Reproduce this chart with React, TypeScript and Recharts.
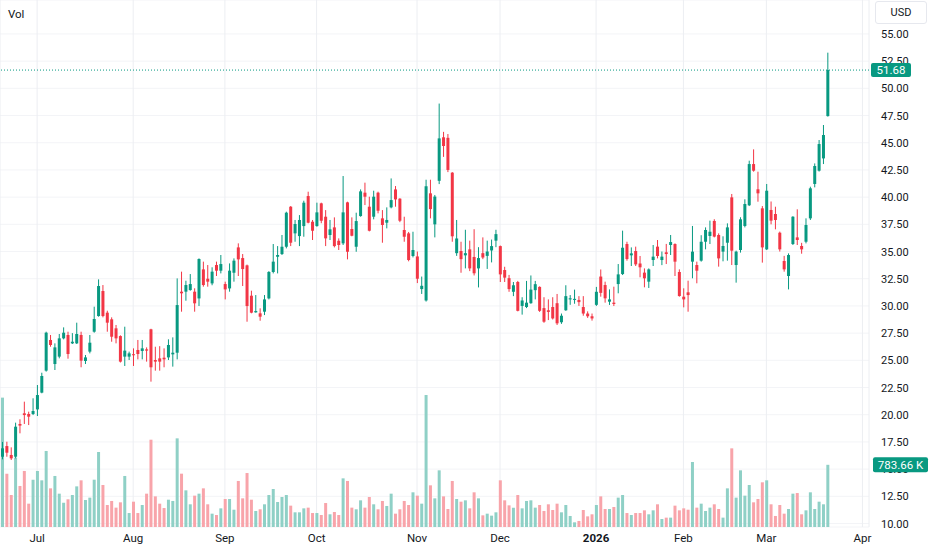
import React from 'react';
import { ComposedChart, Bar, XAxis, YAxis, CartesianGrid, ReferenceLine, Cell } from 'recharts';

const GREEN = '#089981';
const RED = '#F23645';
const VOL_GREEN = '#8fd0c6';
const VOL_RED = '#f8a4aa';
const TEXT = '#131722';
const FONT = 'Roboto, "Noto Sans", sans-serif';

const monthTickIndex = [8, 30, 51, 72, 95, 114, 136, 156, 175, 197];
const monthTickLabel = ['Jul', 'Aug', 'Sep', 'Oct', 'Nov', 'Dec', '2026', 'Feb', 'Mar', 'Apr'];
const priceTicks = [10, 12.5, 15, 17.5, 20, 22.5, 25, 27.5, 30, 32.5, 35, 37.5, 40, 42.5, 45, 47.5, 50, 52.5, 55];
const TOTAL_SLOTS = 199;
const lastPrice = 51.68;
const lastVolumeK = 783.66;
const priceDomain = [9.68, 58.12];
const volumeDomain = [0, 6640];

const openPrices = [
  16.14, 17.12, 16.3, 16.14, 19.15, 20.13, 20.07, 20.07, 20.49, 22.03,
  24.05, 26.87, 24.66, 25.34, 27.02, 27.33, 26.56, 26.56, 27.33, 24.94,
  25.8, 27.63, 29.07, 31.37, 29.38, 28.77, 27.94, 27.23, 25.34, 25.34,
  25.56, 25.95, 25.86, 26.01, 27.85, 25.03, 25.18, 25.24, 25.27, 25.55,
  25.7, 31.31, 31.31, 31.46, 31.31, 30.69, 33.36, 32.5, 32.07, 33.76,
  33.24, 32.01, 31.61, 33.05, 35.38, 34.4, 33.73, 30.94, 29.41, 29.32,
  29.47, 30.69, 33.12, 34.52, 34.77, 35.44, 39.12, 36.67, 36.42, 37.34,
  40.1, 37.74, 37.34, 39.43, 38.2, 36.52, 37.22, 35.99, 35.75, 39.52,
  37.07, 35.44, 38.26, 40.41, 39.12, 38.2, 40.41, 38.05, 37.65, 39.06,
  40.71, 39.86, 36.98, 36.67, 34.59, 34.55, 31.55, 30.5, 40.35, 37.5,
  41.5, 45.5, 45.45, 42.25, 34.85, 35.05, 34.65, 35.2, 34.5, 33.45,
  34.85, 34.6, 35.1, 36.0, 35.5, 33.3, 32.55, 31.3, 32.2, 30.0,
  29.9, 30.25, 31.45, 31.75, 29.8, 29.6, 29.9, 30.25, 28.5, 29.6,
  30.6, 30.55, 30.55, 29.9, 29.3, 29.05, 30.1, 32.7, 31.92, 30.39,
  30.3, 32.01, 32.93, 35.69, 34.65, 35.05, 33.9, 33.06, 32.23, 34.22,
  35.45, 34.22, 34.93, 35.6, 35.69, 33.12, 30.85, 31.25, 34.07, 33.76,
  34.16, 35.9, 36.43, 37.81, 36.52, 34.99, 35.81, 39.98, 33.76, 35.14,
  37.35, 39.25, 43.04, 40.72, 38.97, 35.2, 38.82, 38.45, 36.73, 34.13,
  32.75, 35.69, 36.3, 35.51, 35.9, 38.05, 41.21, 42.43, 43.56, 47.45,
];

const highPrices = [
  17.5, 17.52, 17.0, 19.27, 19.58, 21.2, 20.28, 21.51, 22.73, 23.86,
  27.63, 27.33, 26.56, 27.42, 28.03, 27.63, 27.5, 28.46, 27.63, 25.49,
  27.33, 29.93, 32.44, 31.92, 29.56, 28.95, 28.25, 27.3, 28.09, 25.8,
  26.1, 26.87, 26.87, 26.19, 27.9, 26.25, 26.3, 26.1, 26.93, 27.11,
  32.53, 33.15, 32.32, 32.93, 31.62, 34.37, 34.07, 33.76, 33.55, 34.07,
  34.68, 32.23, 33.91, 34.37, 35.75, 34.77, 33.8, 31.4, 31.0, 29.78,
  31.0, 33.2, 35.69, 35.5, 36.52, 38.66, 39.18, 37.9, 38.35, 39.67,
  40.5, 37.9, 39.49, 39.49, 38.81, 37.9, 38.14, 36.21, 41.94, 39.58,
  38.14, 38.57, 40.71, 41.33, 40.04, 40.59, 40.5, 38.81, 39.06, 41.72,
  41.02, 39.9, 38.2, 36.8, 36.82, 35.0, 32.7, 41.6, 41.6, 40.2,
  48.6, 46.0, 45.8, 42.3, 37.9, 35.9, 37.0, 36.0, 37.05, 35.4,
  36.3, 36.0, 36.1, 37.0, 35.55, 33.6, 32.85, 32.2, 32.3, 30.8,
  32.3, 32.8, 32.3, 31.8, 30.8, 30.6, 30.8, 31.1, 29.3, 31.9,
  31.0, 31.5, 30.9, 30.9, 29.5, 29.3, 31.75, 33.35, 32.23, 31.52,
  31.77, 33.85, 36.92, 35.9, 35.38, 35.45, 34.59, 33.45, 33.45, 35.6,
  36.06, 35.0, 35.7, 36.52, 35.75, 33.36, 31.62, 32.32, 37.35, 34.07,
  36.5, 37.22, 37.84, 37.97, 36.67, 36.4, 37.59, 40.29, 35.08, 38.15,
  39.8, 43.35, 44.39, 42.34, 39.18, 41.21, 39.6, 39.12, 36.83, 34.6,
  34.83, 38.25, 38.88, 35.8, 38.05, 40.96, 43.1, 45.25, 46.63, 53.28,
];

const lowPrices = [
  15.9, 16.14, 15.84, 15.99, 18.29, 19.15, 19.05, 19.97, 19.88, 21.97,
  23.96, 26.25, 24.11, 25.18, 26.93, 25.15, 26.5, 26.5, 24.36, 24.66,
  25.64, 27.54, 29.01, 28.95, 27.63, 26.71, 26.56, 24.8, 24.48, 25.03,
  24.48, 25.09, 25.09, 24.88, 23.04, 24.05, 24.05, 24.36, 25.03, 24.42,
  25.09, 29.47, 30.48, 31.4, 29.47, 29.99, 31.77, 31.77, 31.9, 32.75,
  32.99, 30.6, 31.31, 32.23, 32.75, 31.83, 28.55, 29.32, 29.38, 28.64,
  29.16, 30.6, 32.99, 32.99, 34.68, 35.29, 35.5, 35.9, 35.5, 36.36,
  37.59, 36.06, 37.28, 37.6, 35.5, 36.06, 35.38, 35.14, 35.6, 34.28,
  36.4, 34.98, 38.2, 39.27, 36.85, 37.96, 38.51, 35.81, 37.13, 38.97,
  39.12, 37.7, 35.9, 34.1, 34.46, 32.1, 31.1, 30.4, 38.05, 36.3,
  41.2, 43.7, 42.3, 35.9, 34.6, 33.05, 33.45, 33.2, 32.8, 31.7,
  34.3, 33.4, 34.0, 35.4, 32.2, 32.2, 31.3, 30.9, 29.5, 29.2,
  29.8, 30.2, 30.6, 29.45, 28.45, 28.7, 28.75, 28.25, 28.35, 29.55,
  30.1, 30.2, 30.0, 29.1, 28.9, 28.65, 30.0, 30.85, 30.3, 30.09,
  29.99, 31.16, 32.84, 34.16, 33.67, 33.67, 32.63, 31.71, 31.65, 33.67,
  34.37, 33.75, 33.85, 34.68, 32.75, 30.85, 29.87, 29.47, 32.54, 32.08,
  34.07, 35.2, 35.69, 36.3, 33.61, 34.1, 34.16, 33.76, 32.14, 34.9,
  37.22, 39.18, 42.34, 39.58, 33.98, 35.14, 37.5, 37.04, 35.0, 33.15,
  31.52, 35.6, 35.6, 34.8, 35.75, 37.9, 40.9, 42.35, 43.04, 47.4,
];

const closePrices = [
  16.91, 16.51, 15.99, 18.9, 19.0, 19.97, 19.82, 20.34, 21.81, 23.56,
  27.54, 26.41, 26.19, 27.02, 27.54, 25.58, 26.71, 27.42, 24.97, 25.27,
  26.62, 28.8, 31.83, 29.07, 28.46, 27.17, 27.02, 24.88, 25.89, 25.64,
  25.5, 25.58, 26.1, 25.89, 24.36, 24.88, 24.88, 25.09, 26.41, 25.7,
  30.08, 31.16, 31.92, 32.01, 30.24, 34.31, 31.92, 32.23, 33.15, 33.24,
  33.85, 31.52, 33.24, 34.16, 34.28, 33.39, 29.99, 29.38, 29.53, 29.01,
  30.6, 33.12, 34.07, 34.68, 35.44, 38.57, 35.81, 37.53, 37.9, 39.49,
  37.65, 36.91, 38.6, 37.83, 36.21, 37.04, 35.5, 35.6, 38.6, 34.98,
  36.45, 37.8, 40.53, 40.04, 36.91, 40.04, 38.75, 37.44, 37.9, 39.73,
  39.79, 37.83, 36.36, 34.22, 35.14, 32.5, 31.85, 41.0, 38.9, 40.05,
  45.4, 44.7, 42.5, 36.4, 36.2, 34.3, 34.85, 33.45, 33.0, 34.4,
  34.45, 35.0, 35.5, 36.6, 32.9, 32.6, 31.55, 31.9, 29.55, 30.5,
  30.3, 31.5, 32.0, 29.55, 28.55, 29.45, 28.85, 28.4, 29.1, 30.9,
  30.7, 30.65, 30.35, 29.3, 29.05, 28.85, 31.3, 31.2, 30.7, 30.6,
  30.18, 32.9, 35.35, 34.31, 34.83, 33.82, 33.55, 32.54, 33.36, 34.53,
  34.59, 34.53, 34.77, 35.87, 34.07, 30.91, 30.6, 31.0, 34.99, 33.24,
  35.9, 36.98, 36.82, 36.37, 34.37, 35.51, 37.22, 35.08, 34.99, 37.96,
  39.37, 43.04, 42.43, 40.35, 35.38, 40.59, 37.84, 37.9, 35.2, 33.36,
  34.68, 38.2, 36.06, 35.2, 37.44, 40.81, 42.86, 44.88, 45.71, 51.68,
];

// volume in thousands
const volumesK = [
  1630, 672, 403, 874, 517, 706, 294, 596, 706, 588,
  958, 487, 643, 420, 307, 349, 403, 512, 588, 340,
  370, 596, 945, 529, 277, 328, 244, 311, 643, 176,
  319, 176, 277, 420, 1100, 386, 294, 239, 344, 328,
  1117, 672, 462, 286, 395, 420, 487, 286, 168, 151,
  235, 353, 353, 218, 580, 361, 680, 344, 202, 223,
  286, 403, 479, 315, 378, 403, 269, 185, 185, 235,
  244, 176, 176, 151, 302, 160, 189, 151, 613, 580,
  244, 223, 336, 244, 378, 286, 223, 328, 265, 420,
  168, 223, 328, 277, 437, 395, 294, 1663, 525, 361,
  714, 386, 227, 580, 353, 319, 336, 235, 437, 361,
  147, 168, 143, 185, 588, 336, 273, 244, 403, 235,
  328, 336, 244, 277, 202, 286, 214, 294, 185, 277,
  139, 59, 76, 214, 134, 160, 277, 386, 227, 227,
  252, 370, 403, 176, 151, 176, 176, 210, 160, 210,
  286, 101, 118, 118, 269, 210, 235, 218, 819, 244,
  294, 202, 244, 286, 227, 118, 487, 991, 370, 714,
  395, 529, 311, 353, 563, 588, 286, 139, 277, 168,
  227, 420, 428, 160, 210, 437, 227, 319, 286, 783.66,
];

const chartData = Array.from({ length: TOTAL_SLOTS }, (_, i) => {
  if (i < openPrices.length) {
    const o = openPrices[i];
    const h = highPrices[i];
    const l = lowPrices[i];
    const c = closePrices[i];
    return { i, o, h, l, c, lh: [l, h], v: volumesK[i], up: c >= o };
  }
  return { i, o: null, h: null, l: null, c: null, lh: null, v: null, up: true };
});

const Candle = (props: any) => {
  const { x, y, width, height, payload } = props;
  if (!payload || payload.o == null) return null;
  const { o, h, l, c } = payload;
  const top = Math.min(y, y + height);
  const bot = Math.max(y, y + height);
  const ppu = (bot - top) / (h - l || 1);
  const py = (p: number) => top + (h - p) * ppu;
  const cx = x + width / 2;
  const color = c >= o ? GREEN : RED;
  const bt = py(Math.max(o, c));
  const bb = py(Math.min(o, c));
  const bw = 3;
  return (
    <g>
      <line x1={cx} x2={cx} y1={top} y2={bot} stroke={color} strokeWidth={1} />
      <rect x={cx - bw / 2} y={bt} width={bw} height={Math.max(bb - bt, 1)} fill={color} />
    </g>
  );
};

const MonthTick = (props: any) => {
  const { x, y, payload } = props;
  const idx = monthTickIndex.indexOf(payload.value);
  const label = idx >= 0 ? monthTickLabel[idx] : '';
  return (
    <text x={x} y={y + 15} textAnchor="middle" fill={TEXT} fontSize={11.5} fontFamily={FONT}
      fontWeight={label === '2026' ? 700 : 400}>
      {label}
    </text>
  );
};

const PriceTick = (props: any) => {
  const { x, y, payload } = props;
  return (
    <text x={x + 12} y={y + 4} textAnchor="start" fill={TEXT} fontSize={11} fontFamily={FONT}>
      {Number(payload.value).toFixed(2)}
    </text>
  );
};

// tag drawn as the tick of a 1px-wide axis stacked at the far right edge
const makeTagTick = (w: number, h: number, back: number, fmt: (v: number) => string) => (props: any) => {
  const { x, y, payload } = props;
  const left = x - back;
  return (
    <g>
      <rect x={left} y={y - h / 2} width={w} height={h} rx={2} fill={GREEN} />
      <text x={left + w / 2} y={y + 4} textAnchor="middle" fill="#ffffff" fontSize={11.5} fontFamily={FONT}>
        {fmt(Number(payload.value))}
      </text>
    </g>
  );
};

const PriceTagTick = makeTagTick(40, 14, 59, (v) => v.toFixed(2));
const VolTagTick = makeTagTick(55, 15, 58, (v) => `${v.toFixed(2)} K`);

export default function App() {
  return (
    <div style={{ position: 'absolute', left: 0, top: 0, width: 932, height: 550, background: '#ffffff', fontFamily: FONT }}>
      <ComposedChart width={932} height={550} data={chartData} margin={{ top: 0, right: 0, bottom: 0, left: 0 }}>
        <CartesianGrid xAxisId="a" yAxisId="price" vertical={false} stroke="#f3f4f7" />
        <CartesianGrid xAxisId="a" yAxisId="price" horizontal={false} stroke="#eceef2" />
        <XAxis xAxisId="a" dataKey="i" type="category" ticks={monthTickIndex} interval={0}
          tickLine={false} axisLine={false} tickSize={0} tickMargin={0} height={23} tick={<MonthTick />} />
        <XAxis xAxisId="b" dataKey="i" type="category" hide />
        <YAxis yAxisId="price" orientation="right" type="number" domain={priceDomain} ticks={priceTicks}
          allowDataOverflow interval={0} width={61} axisLine={false} tickLine={false} tickSize={0} tickMargin={0}
          tick={<PriceTick />} />
        <YAxis yAxisId="vol" orientation="right" type="number" domain={volumeDomain} allowDataOverflow
          width={1} ticks={[lastVolumeK]} interval={0} axisLine={false} tickLine={false} tickSize={0} tickMargin={0}
          tick={<VolTagTick />} />
        <YAxis yAxisId="tag" orientation="right" type="number" domain={priceDomain} allowDataOverflow
          width={1} ticks={[lastPrice]} interval={0} axisLine={false} tickLine={false} tickSize={0} tickMargin={0}
          tick={<PriceTagTick />} />
        <Bar xAxisId="b" yAxisId="vol" dataKey="v" barSize={3} isAnimationActive={false}>
          {chartData.map((d) => (
            <Cell key={`v${d.i}`} fill={d.up ? VOL_GREEN : VOL_RED} />
          ))}
        </Bar>
        <Bar xAxisId="a" yAxisId="price" dataKey="lh" barSize={3} shape={<Candle />} isAnimationActive={false} />
        <ReferenceLine xAxisId="a" yAxisId="price" y={lastPrice} stroke={GREEN} strokeDasharray="1 2" />
      </ComposedChart>
      <div style={{ position: 'absolute', left: 8, top: 7, fontSize: 11.5, color: TEXT, fontFamily: FONT, lineHeight: '14px' }}>Vol</div>
      <div style={{ position: 'absolute', left: 875, top: 1, width: 52, height: 23, border: '1px solid #e6e8ee', borderRadius: 3,
        boxSizing: 'border-box', fontSize: 11, color: TEXT, fontFamily: FONT, display: 'flex', alignItems: 'center', justifyContent: 'center', background: '#fff' }}>
        USD
      </div>
    </div>
  );
}
